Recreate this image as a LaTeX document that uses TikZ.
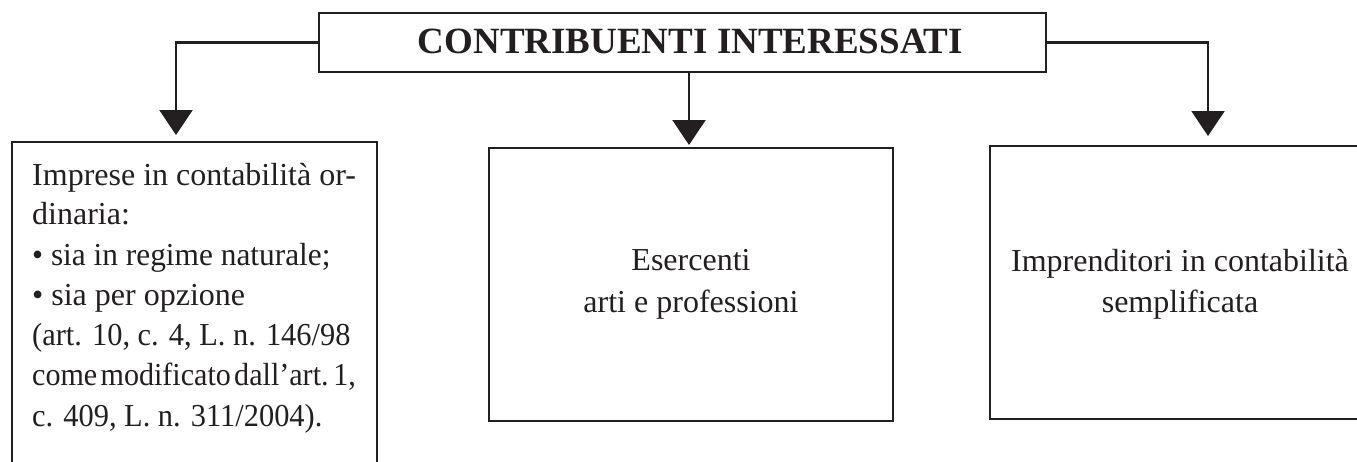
\documentclass[tikz,border=0pt]{standalone}
\usepackage{fontspec}
\setmainfont{Liberation Serif}
\usetikzlibrary{arrows.meta}
\definecolor{ink}{RGB}{35,31,32}
\begin{document}
\begin{tikzpicture}[x=1pt,y=-1pt,
  boxshape/.style={draw=ink, line width=2.2pt, inner sep=0pt, outer sep=0pt},
  conn/.style={draw=ink, line width=2.2pt, -{Triangle[width=33pt,length=25pt]}},
  bodytxt/.style={text=ink, inner sep=0pt, font=\fontsize{32}{40}\selectfont},
  titletxt/.style={text=ink, inner sep=0pt, font=\fontsize{37}{40}\selectfont\bfseries}]
\useasboundingbox (0,0) rectangle (1357,461);
\clip (0,0) rectangle (1357,461);
% boxes
\node[boxshape, minimum width=727pt, minimum height=59pt] (top) at (682.5,42.5) {};
\node[boxshape, minimum width=365pt, minimum height=358pt] (left) at (194.5,321) {};
\node[boxshape, minimum width=404pt, minimum height=273pt] (mid) at (691,284.5) {};
\node[boxshape, minimum width=380pt, minimum height=273pt] (right) at (1180,282.5) {};
% title
\node[titletxt, anchor=base] (title) at (690.5,53) {CONTRIBUENTI INTERESSATI};
% connectors
\coordinate (ltip) at (176,135);
\coordinate (mtip) at (689,145);
\coordinate (rtip) at (1208,136);
\draw[conn] (top.west) -| (ltip);
\draw[conn] (top.south -| mtip) -- (mtip);
\draw[conn] (top.east) -| (rtip);
% left text
\node[bodytxt, anchor=base west] (l1) at (32,185) {Imprese in contabilità or-};
\node[bodytxt, anchor=base west] (l2) at (32,224) {dinaria:};
\node[bodytxt, anchor=base west] (l3) at (32,265) {\scalebox{0.98}[1]{• sia in regime naturale;}};
\node[bodytxt, anchor=base west] (l4) at (32,305) {• sia per opzione};
\node[bodytxt, anchor=base west] (l5) at (32,345) {\scalebox{0.95}[1]{(art. 10, c. 4, L. n. 146/98}};
\node[bodytxt, anchor=base west] (l6) at (32,385) {\scalebox{0.94}[1]{come\hspace{3.5pt}modificato\hspace{3.5pt}dall’art.\hspace{5pt}1,}};
\node[bodytxt, anchor=base west] (l7) at (32,426) {\scalebox{0.95}[1]{c. 409, L. n. 311/2004).}};
% middle text
\node[bodytxt, anchor=base] (m1) at (691,270) {Esercenti};
\node[bodytxt, anchor=base] (m2) at (691,312) {arti e professioni};
% right text
\node[bodytxt, anchor=base] (r1) at (1180,271) {Imprenditori in contabilità};
\node[bodytxt, anchor=base] (r2) at (1180,312) {semplificata};
\end{tikzpicture}
\end{document}
